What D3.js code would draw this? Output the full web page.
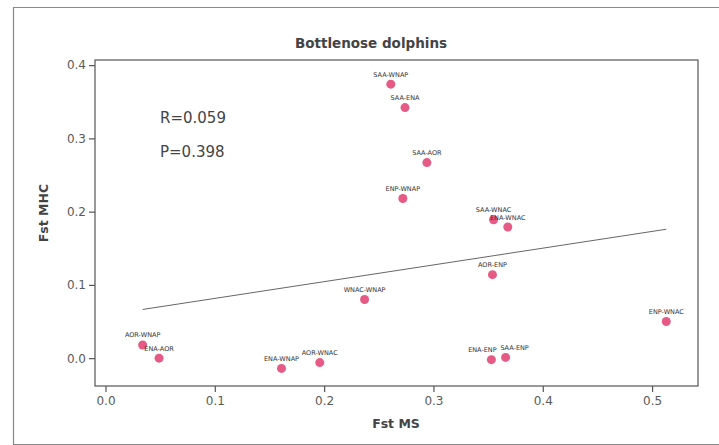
<!DOCTYPE html>
<html>
<head>
<meta charset="utf-8">
<script src="https://cdn.jsdelivr.net/npm/d3@7"></script>
<style>
  html, body { margin: 0; padding: 0; background: #fff; }
  svg { display: block; font-family: "DejaVu Sans", Verdana, sans-serif; }
</style>
</head>
<body>
<svg id="chart" width="719" height="445"></svg>
<script>
// Pairwise population comparisons: microsatellite Fst vs MHC Fst
const pairs = ["SAA-WNAP", "SAA-ENA", "SAA-AOR", "ENP-WNAP", "SAA-WNAC", "ENA-WNAC",
               "AOR-ENP", "ENP-WNAC", "ENA-ENP", "SAA-ENP", "WNAC-WNAP", "AOR-WNAP",
               "ENA-AOR", "ENA-WNAP", "AOR-WNAC"];
const fstMS  = [0.261, 0.274, 0.294, 0.272, 0.355, 0.368, 0.354, 0.513, 0.353, 0.366,
                0.237, 0.034, 0.049, 0.161, 0.196];
const fstMHC = [0.374, 0.342, 0.267, 0.218, 0.189, 0.179, 0.114, 0.050, -0.002, 0.001,
                0.080, 0.018, 0.000, -0.014, -0.006];

// Linear fit of MHC on MS
const fitIntercept = 0.0587;
const fitSlope = 0.2286;

const statsText = ["R=0.059", "P=0.398"];
const xTicks = [0.0, 0.1, 0.2, 0.3, 0.4, 0.5];
const yTicks = [0.0, 0.1, 0.2, 0.3, 0.4];

const svg = d3.select("#chart");
const plot = { left: 95, top: 60, right: 698, bottom: 386 };

const x = d3.scaleLinear().domain([-0.0096, 0.542]).range([plot.left, plot.right]);
const y = d3.scaleLinear().domain([-0.038, 0.407]).range([plot.bottom, plot.top]);

// outer figure frame
svg.append("path")
  .attr("d", `M719,7.5 H13.5 V444.5 H719`)
  .attr("fill", "none").attr("stroke", "#888").attr("stroke-width", 1.2);

// plot box
svg.append("rect")
  .attr("x", plot.left).attr("y", plot.top)
  .attr("width", plot.right - plot.left).attr("height", plot.bottom - plot.top)
  .attr("fill", "none").attr("stroke", "#555").attr("stroke-width", 1.2);

// axes
const xAxis = svg.append("g")
  .attr("transform", `translate(0,${plot.bottom})`)
  .call(d3.axisBottom(x).tickValues(xTicks).tickFormat(d3.format(".1f")).tickSizeOuter(0).tickSize(6).tickPadding(4));
const yAxis = svg.append("g")
  .attr("transform", `translate(${plot.left},0)`)
  .call(d3.axisLeft(y).tickValues(yTicks).tickFormat(d3.format(".1f")).tickSizeOuter(0).tickSize(6).tickPadding(3));
[xAxis, yAxis].forEach(g => {
  g.select(".domain").remove();
  g.selectAll(".tick line").attr("stroke", "#555").attr("stroke-width", 1.2);
  g.selectAll(".tick text").attr("fill", "#5a5a5a").attr("font-size", 12)
    .attr("font-family", "DejaVu Sans, sans-serif");
});

// title and axis labels
svg.append("text")
  .attr("x", 371).attr("y", 48).attr("text-anchor", "middle")
  .attr("font-size", 13.5).attr("font-weight", "bold").attr("fill", "#444")
  .text("Bottlenose dolphins");
svg.append("text")
  .attr("x", 396).attr("y", 428).attr("text-anchor", "middle")
  .attr("font-size", 12.5).attr("font-weight", "bold").attr("fill", "#444")
  .text("Fst MS");
svg.append("text")
  .attr("transform", `translate(48,213) rotate(-90)`).attr("text-anchor", "middle")
  .attr("font-size", 12.5).attr("font-weight", "bold").attr("fill", "#444")
  .text("Fst MHC");

// regression line across the observed MS range
const [xMin, xMax] = d3.extent(fstMS);
svg.append("line")
  .attr("x1", x(xMin)).attr("y1", y(fitIntercept + fitSlope * xMin))
  .attr("x2", x(xMax)).attr("y2", y(fitIntercept + fitSlope * xMax))
  .attr("stroke", "#666").attr("stroke-width", 1);

// points
const data = pairs.map((p, i) => ({ name: p, ms: fstMS[i], mhc: fstMHC[i] }));
svg.append("g").selectAll("circle").data(data).join("circle")
  .attr("cx", d => x(d.ms)).attr("cy", d => y(d.mhc))
  .attr("r", 4.5).attr("fill", "#e65a86");

// point labels; two near-coincident points get their labels pushed apart
const labelShift = { "ENA-ENP": -9, "SAA-ENP": 9 };
svg.append("g").selectAll("text").data(data).join("text")
  .attr("x", d => x(d.ms) + (labelShift[d.name] || 0)).attr("y", d => y(d.mhc) - 7.5)
  .attr("text-anchor", "middle").attr("font-size", 6.5).attr("fill", "#333")
  .text(d => d.name);

// statistics
svg.append("g").selectAll("text").data(statsText).join("text")
  .attr("x", 160).attr("y", (d, i) => 123 + i * 34)
  .attr("font-size", 15).attr("fill", "#444")
  .text(d => d);
</script>
</body>
</html>
